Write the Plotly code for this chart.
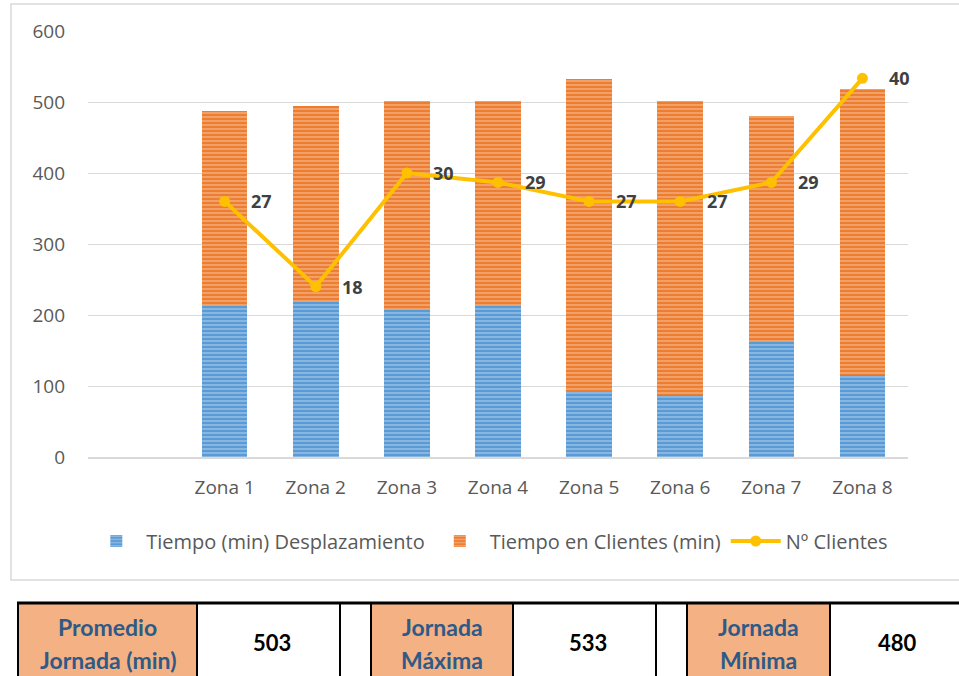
import plotly.graph_objects as go

categories = [" ", "Zona 1", "Zona 2", "Zona 3", "Zona 4", "Zona 5", "Zona 6", "Zona 7", "Zona 8"]
zonas = ["Zona 1", "Zona 2", "Zona 3", "Zona 4", "Zona 5", "Zona 6", "Zona 7", "Zona 8"]
desplazamiento = [212, 218, 207, 212, 92, 88, 163, 115]
clientes_tiempo = [276, 277, 295, 290, 441, 414, 317, 403]
n_clientes = [27, 18, 30, 29, 27, 27, 29, 40]
y_ticks = [0, 100, 200, 300, 400, 500, 600]

table_headers = [("Promedio", "Jornada (min)"), ("Jornada", "Máxima"), ("Jornada", "Mínima")]
table_values = ["503", "533", "480"]

W, H = 959, 676
L, R, T, B = 88, 908, 31, 457


def px(x):
    return (x - L) / (R - L)


def py(y):
    return (B - y) / (B - T)


fig = go.Figure()
fig.add_trace(go.Bar(
    x=zonas, y=desplazamiento, name="Tiempo (min) Desplazamiento",
    marker=dict(color="#5B9BD5", line=dict(width=0),
                pattern=dict(shape="-", size=4, solidity=0.4, fgcolor="#C9DEF2", fillmode="overlay")),
    width=0.5,
))
fig.add_trace(go.Bar(
    x=zonas, y=clientes_tiempo, name="Tiempo en Clientes (min)",
    marker=dict(color="#ED7D31", line=dict(width=0),
                pattern=dict(shape="-", size=4, solidity=0.4, fgcolor="#F9D5BC", fillmode="overlay")),
    width=0.5,
))
fig.add_trace(go.Scatter(
    x=zonas, y=n_clientes, name="Nº Clientes", yaxis="y2", mode="lines+markers",
    line=dict(color="#FFC000", width=4), marker=dict(color="#FFC000", size=11),
))

for z, v in zip(zonas, n_clientes):
    fig.add_annotation(x=z, y=v, xref="x", yref="y2", text=f"<b>{v}</b>", showarrow=False,
                       xanchor="center", yanchor="middle",
                       xshift=37, yshift=0, font=dict(family="Open Sans", size=18, color="#404040"))

shapes = []
# chart border
shapes.append(dict(type="rect", xref="paper", yref="paper", x0=px(11), x1=px(965), y0=py(4), y1=py(580),
                   line=dict(color="#D9D9D9", width=1.5), fillcolor="rgba(0,0,0,0)", layer="below"))

# table
orange_cells = [(18, 197), (371, 513), (687, 830)]
value_cells = [(197, 340), (513, 656), (830, 959)]
for (a, b) in orange_cells:
    shapes.append(dict(type="rect", xref="paper", yref="paper", x0=px(a), x1=px(b), y0=py(603), y1=py(680),
                       line=dict(width=0), fillcolor="#F4B183"))
for xv in [18, 197, 340, 371, 513, 656, 687, 830]:
    shapes.append(dict(type="line", xref="paper", yref="paper", x0=px(xv), x1=px(xv), y0=py(603), y1=py(680),
                       line=dict(color="black", width=2)))
shapes.append(dict(type="line", xref="paper", yref="paper", x0=px(17), x1=px(965), y0=py(603), y1=py(603),
                   line=dict(color="black", width=3)))

hdr_font = dict(family="Lato", size=23, color="#2E5A87")
for (a, b), (l1, l2) in zip(orange_cells, table_headers):
    for txt, yy in ((l1, 627), (l2, 660)):
        fig.add_annotation(xref="paper", yref="paper", x=px((a + b) / 2), y=py(yy), text=f"<b>{txt}</b>",
                           xanchor="center", yanchor="middle", showarrow=False, font=hdr_font)
for (a, b), t in zip(value_cells, table_values):
    fig.add_annotation(xref="paper", yref="paper", x=px((a + b) / 2 + 3), y=py(642),
                       xanchor="center", yanchor="middle",
                       text=f"<b>{t}</b>", showarrow=False, font=dict(family="Lato", size=22, color="black"))

fig.update_layout(
    width=W, height=H, barmode="stack",
    margin=dict(l=L, r=W - R, t=T, b=H - B),
    paper_bgcolor="white", plot_bgcolor="white",
    font=dict(family="Open Sans", color="#595959", size=19),
    xaxis=dict(categoryorder="array", categoryarray=categories, range=[-0.5, 8.5],
               showline=True, linecolor="#D9D9D9", linewidth=2, ticks="", showgrid=False,
               tickfont=dict(size=19, color="#595959"), ticklabelstandoff=12),
    yaxis=dict(range=[0, 600], tickvals=y_ticks, showgrid=True, gridcolor="#D9D9D9", gridwidth=1,
               zeroline=False, showline=False, ticks="", ticklabelstandoff=22,
               tickfont=dict(size=19, color="#595959")),
    yaxis2=dict(range=[0, 45], overlaying="y", side="right", visible=False),
    legend=dict(orientation="h", x=0.49, xanchor="center", y=py(541), yanchor="middle",
                font=dict(size=20, color="#595959"), itemwidth=50, traceorder="normal"),
    shapes=shapes,
)

fig.write_html("out.html", config={"displayModeBar": False},
               post_script="document.body.style.margin='0';document.body.style.padding='0';")
